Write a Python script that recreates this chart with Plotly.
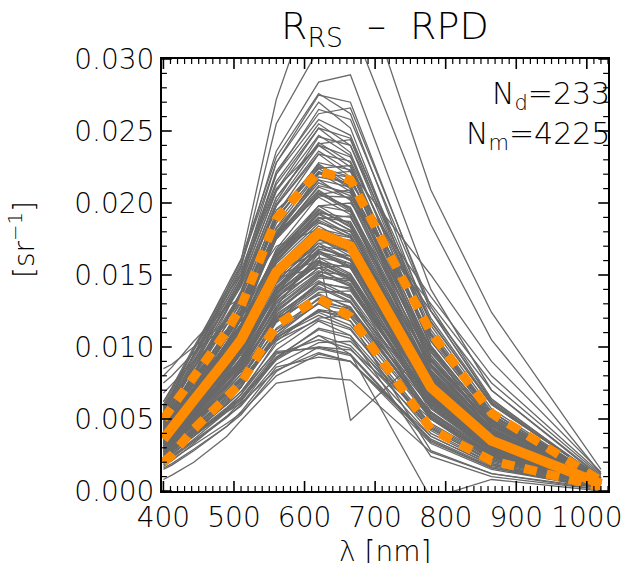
import plotly.graph_objects as go

# Wavelengths of the radiometer bands [nm]
wavelengths = [400, 412, 443, 490, 510, 560, 620, 665, 779, 865, 1020]

# Individual R_RS spectra, in units of 1e-4 sr^-1
rrs_spectra_e4 = [
    [18, 22, 32, 47, 54, 80, 95, 90, 38, 18, 2],
    [20, 24, 35, 52, 59, 88, 103, 104, 47, 23, 4],
    [22, 26, 38, 55, 63, 91, 108, 101, 43, 21, 3],
    [26, 30, 41, 55, 61, 84, 96, 90, 36, 17, 2],
    [16, 19, 29, 45, 53, 83, 100, 98, 50, 26, 4],
    [24, 28, 39, 57, 65, 93, 112, 106, 40, 19, 3],
    [21, 25, 38, 57, 67, 104, 126, 123, 63, 32, 5],
    [19, 23, 34, 51, 60, 92, 113, 108, 44, 20, 3],
    [25, 30, 44, 64, 74, 106, 126, 118, 50, 25, 4],
    [24, 28, 41, 60, 69, 102, 120, 122, 55, 27, 4],
    [32, 36, 50, 69, 77, 105, 119, 112, 45, 21, 3],
    [27, 31, 45, 65, 75, 110, 130, 125, 52, 25, 4],
    [23, 28, 42, 62, 72, 108, 131, 127, 58, 29, 5],
    [29, 33, 47, 67, 76, 108, 124, 115, 46, 22, 3],
    [26, 31, 46, 67, 78, 113, 133, 126, 54, 26, 4],
    [22, 27, 40, 61, 72, 110, 134, 131, 66, 34, 5],
    [30, 35, 49, 68, 77, 107, 122, 113, 42, 19, 2],
    [25, 29, 43, 63, 73, 106, 125, 121, 51, 24, 3],
    [29, 34, 50, 74, 84, 122, 144, 134, 58, 28, 4],
    [27, 32, 46, 69, 79, 117, 138, 139, 62, 30, 5],
    [36, 42, 58, 79, 88, 120, 136, 128, 51, 24, 3],
    [24, 29, 43, 66, 77, 118, 144, 141, 72, 37, 6],
    [31, 36, 52, 75, 85, 121, 141, 131, 54, 26, 4],
    [28, 33, 48, 71, 81, 119, 140, 136, 60, 29, 4],
    [33, 38, 54, 77, 86, 123, 142, 132, 53, 25, 3],
    [26, 31, 47, 70, 81, 120, 145, 140, 65, 32, 5],
    [30, 35, 51, 73, 83, 118, 137, 127, 50, 23, 3],
    [29, 34, 51, 76, 87, 127, 150, 143, 61, 30, 4],
    [27, 32, 48, 72, 83, 124, 148, 146, 68, 34, 5],
    [34, 40, 56, 79, 89, 126, 146, 135, 52, 24, 3],
    [31, 37, 53, 77, 88, 128, 151, 142, 59, 28, 4],
    [28, 33, 49, 73, 84, 125, 149, 147, 64, 31, 5],
    [32, 39, 57, 83, 95, 137, 162, 151, 65, 32, 5],
    [31, 36, 52, 77, 89, 131, 155, 157, 70, 34, 5],
    [41, 47, 65, 89, 99, 135, 153, 144, 58, 27, 4],
    [27, 32, 49, 74, 86, 133, 162, 158, 81, 41, 6],
    [33, 39, 56, 81, 92, 134, 158, 149, 63, 30, 4],
    [30, 35, 52, 78, 90, 134, 159, 155, 69, 33, 5],
    [37, 43, 60, 85, 96, 136, 157, 146, 60, 28, 4],
    [29, 35, 52, 79, 92, 138, 166, 161, 75, 37, 6],
    [34, 40, 58, 84, 96, 139, 165, 155, 66, 32, 5],
    [32, 38, 55, 80, 91, 132, 155, 148, 62, 30, 4],
    [35, 41, 59, 86, 98, 141, 167, 156, 64, 31, 4],
    [30, 36, 53, 80, 93, 140, 168, 163, 73, 36, 5],
    [38, 44, 62, 87, 98, 138, 160, 150, 61, 29, 4],
    [31, 37, 54, 79, 90, 130, 152, 150, 67, 33, 5],
    [33, 39, 57, 84, 97, 142, 170, 160, 68, 33, 5],
    [36, 42, 60, 86, 97, 137, 159, 147, 57, 27, 3],
    [36, 43, 63, 92, 105, 152, 180, 168, 72, 35, 5],
    [34, 40, 58, 86, 99, 146, 172, 174, 78, 38, 6],
    [45, 52, 72, 99, 110, 150, 170, 160, 64, 30, 4],
    [30, 36, 54, 82, 96, 148, 180, 176, 90, 46, 7],
    [35, 42, 61, 89, 102, 149, 176, 166, 71, 34, 5],
    [38, 45, 65, 94, 107, 154, 181, 170, 70, 34, 5],
    [33, 39, 57, 85, 98, 147, 176, 172, 80, 40, 6],
    [40, 47, 67, 95, 107, 151, 175, 163, 66, 31, 4],
    [36, 43, 62, 90, 103, 150, 178, 171, 75, 37, 6],
    [37, 44, 64, 93, 106, 153, 182, 169, 69, 33, 5],
    [32, 38, 56, 84, 97, 145, 174, 173, 84, 43, 7],
    [42, 49, 69, 97, 108, 151, 172, 161, 63, 30, 4],
    [35, 41, 60, 88, 101, 148, 177, 170, 76, 37, 5],
    [39, 46, 66, 95, 108, 156, 184, 172, 71, 34, 5],
    [34, 41, 60, 89, 103, 152, 182, 177, 81, 40, 6],
    [36, 42, 61, 88, 100, 144, 170, 161, 68, 33, 5],
    [37, 44, 63, 91, 104, 151, 179, 167, 73, 36, 5],
    [33, 40, 59, 87, 100, 149, 178, 174, 79, 39, 6],
    [40, 47, 69, 101, 116, 167, 198, 185, 79, 39, 6],
    [37, 44, 64, 95, 109, 161, 189, 191, 86, 42, 7],
    [50, 57, 79, 109, 121, 165, 187, 176, 70, 33, 4],
    [33, 40, 59, 90, 106, 163, 198, 194, 99, 51, 8],
    [39, 46, 67, 98, 112, 162, 192, 181, 78, 38, 6],
    [42, 49, 70, 101, 115, 164, 193, 181, 76, 37, 5],
    [36, 43, 63, 94, 108, 159, 190, 187, 88, 44, 7],
    [44, 51, 72, 103, 116, 164, 190, 178, 73, 35, 5],
    [38, 45, 66, 97, 111, 163, 194, 186, 83, 41, 6],
    [41, 48, 68, 99, 113, 160, 188, 178, 75, 36, 5],
    [35, 42, 62, 93, 108, 160, 193, 190, 92, 47, 7],
    [43, 50, 71, 102, 116, 166, 196, 183, 77, 37, 5],
    [39, 46, 66, 96, 110, 158, 186, 180, 80, 39, 6],
    [40, 47, 68, 100, 114, 165, 195, 184, 81, 40, 6],
    [43, 52, 76, 110, 126, 182, 216, 202, 86, 42, 6],
    [41, 48, 70, 103, 119, 175, 206, 209, 94, 46, 7],
    [54, 62, 86, 119, 132, 180, 204, 192, 77, 36, 5],
    [36, 43, 65, 98, 115, 178, 216, 211, 108, 55, 8],
    [45, 53, 75, 108, 123, 176, 208, 196, 84, 41, 6],
    [42, 50, 72, 106, 121, 177, 211, 203, 91, 45, 7],
    [47, 55, 77, 110, 124, 177, 207, 194, 81, 39, 6],
    [40, 47, 69, 103, 119, 176, 212, 207, 99, 50, 8],
    [44, 52, 74, 107, 122, 175, 206, 197, 87, 43, 6],
    [48, 56, 78, 111, 125, 178, 209, 195, 80, 38, 5],
    [47, 56, 82, 120, 137, 198, 234, 218, 94, 46, 7],
    [44, 52, 75, 112, 129, 190, 224, 226, 101, 49, 8],
    [59, 68, 94, 129, 143, 195, 221, 208, 83, 39, 5],
    [39, 47, 70, 107, 125, 192, 234, 229, 117, 60, 9],
    [50, 58, 82, 118, 134, 192, 227, 213, 92, 45, 7],
    [46, 54, 79, 115, 131, 189, 225, 218, 98, 48, 7],
    [52, 60, 85, 120, 135, 193, 226, 211, 88, 42, 6],
    [50, 60, 88, 129, 147, 213, 252, 235, 101, 49, 7],
    [48, 56, 81, 120, 139, 204, 241, 244, 109, 53, 8],
    [62, 71, 98, 136, 151, 210, 240, 225, 90, 43, 6],
    [54, 65, 95, 138, 158, 228, 270, 252, 108, 53, 8],
    [56, 66, 94, 135, 153, 220, 258, 247, 112, 55, 8],
    [45, 54, 82, 125, 146, 220, 265, 258, 125, 63, 9],
    [58, 68, 98, 142, 161, 232, 276, 262, 115, 57, 8],
    [75, 80, 96, 116, 121, 150, 160, 148, 55, 25, 3],
    [85, 88, 100, 118, 122, 148, 155, 142, 50, 22, 3],
    [68, 74, 90, 112, 118, 152, 166, 155, 60, 28, 4],
    [80, 86, 104, 128, 134, 170, 182, 170, 66, 31, 4],
    [8, 11, 20, 38, 49, 75, 79, 77, 27, 12, 2],
    [30, 35, 50, 74, 86, 128, 165, 49, 100, 40, 5],
    [22, 26, 38, 56, 64, 92, 108, 95, -5, 8, 0],
    [62, 72, 100, 140, 160, 272, 356, 376, 209, 124, 15],
    [58, 68, 95, 136, 155, 255, 307, 326, 185, 105, 12],
    [60, 70, 98, 138, 156, 236, 284, 289, 140, 70, 9],
    [55, 64, 92, 132, 150, 228, 275, 270, 125, 62, 8],
    [52, 62, 90, 130, 148, 222, 262, 266, 128, 64, 8],
    [15, 18, 28, 45, 55, 86, 93, 90, 33, 15, 2],
    [20, 24, 36, 55, 65, 96, 100, 95, 35, 16, 2],
    [17, 21, 33, 52, 62, 95, 105, 99, 38, 18, 2],
    [25, 29, 42, 60, 69, 97, 99, 94, 34, 16, 2],
    [24, 28, 40, 58, 67, 98, 118, 108, 24, 10, 1],
    [28, 33, 47, 68, 78, 112, 130, 118, 28, 12, 1],
    [44, 52, 74, 108, 124, 180, 214, 205, 92, 46, 7],
    [46, 54, 77, 112, 128, 186, 222, 212, 96, 48, 7],
    [41, 49, 72, 107, 124, 183, 221, 218, 104, 52, 8],
    [49, 57, 81, 116, 131, 189, 224, 210, 88, 43, 6],
    [43, 51, 75, 111, 128, 188, 228, 223, 106, 53, 8],
    [51, 60, 85, 122, 138, 198, 236, 222, 97, 47, 7],
    [47, 56, 82, 120, 137, 199, 240, 232, 110, 55, 8],
    [53, 62, 88, 126, 142, 204, 242, 228, 100, 49, 7],
    [45, 54, 80, 119, 137, 201, 246, 240, 118, 60, 9],
    [55, 64, 90, 129, 145, 208, 247, 233, 104, 51, 7],
    [50, 59, 86, 126, 144, 209, 252, 245, 120, 61, 9],
    [57, 67, 94, 134, 150, 215, 255, 240, 108, 53, 8],
    [34, 40, 58, 85, 97, 140, 166, 158, 70, 35, 5],
    [35, 42, 61, 90, 103, 150, 178, 170, 78, 39, 6],
    [37, 44, 63, 91, 104, 149, 175, 165, 70, 34, 5],
    [31, 37, 55, 82, 95, 141, 170, 167, 79, 40, 6],
    [38, 45, 65, 93, 105, 150, 176, 166, 69, 33, 5],
    [33, 40, 59, 88, 101, 148, 177, 172, 82, 41, 6],
    [38, 45, 66, 98, 113, 168, 205, 204, 125, 70, 10],
    [35, 42, 62, 93, 108, 162, 198, 200, 130, 75, 11],
    [42, 50, 72, 106, 122, 180, 218, 214, 135, 80, 12],
    [40, 48, 70, 104, 120, 178, 220, 222, 150, 90, 13],
]

# Mean and mean +/- one standard deviation [sr^-1]
rrs_mean = [0.0036, 0.0043, 0.0063, 0.0092, 0.0105, 0.0152, 0.0179, 0.0170, 0.0072, 0.0035, 0.0005]
rrs_upper = [0.0050, 0.0058, 0.0079, 0.0111, 0.0128, 0.0189, 0.0222, 0.0216, 0.0110, 0.0054, 0.0007]
rrs_lower = [0.0020, 0.0025, 0.0043, 0.0064, 0.0075, 0.0115, 0.0134, 0.0121, 0.0043, 0.0021, 0.0003]

# Axis ticks
x_major = [400, 500, 600, 700, 800, 900, 1000]
x_minor_step = 10
y_major = [0.000, 0.005, 0.010, 0.015, 0.020, 0.025, 0.030]
y_minor_step = 0.001
x_range = [398, 1030]
y_range = [0.0, 0.030]

n_d = 233
n_m = 4225

W, H = 634, 563
M = dict(l=162, r=14, t=59, b=72)
GRAY = "rgb(105,105,105)"
ORANGE = "#ff8c00"
FONT = "DejaVu Sans"
TXT = "#000"

fig = go.Figure()

for spec in rrs_spectra_e4:
    fig.add_trace(go.Scatter(
        x=wavelengths, y=[v * 1e-4 for v in spec], mode="lines",
        line=dict(color=GRAY, width=1.3), hoverinfo="skip", showlegend=False))

for band in (rrs_upper, rrs_lower):
    fig.add_trace(go.Scatter(
        x=wavelengths, y=band, mode="lines",
        line=dict(color=ORANGE, width=9, dash="13px,10px"),
        hoverinfo="skip", showlegend=False))

fig.add_trace(go.Scatter(
    x=wavelengths, y=rrs_mean, mode="lines",
    line=dict(color=ORANGE, width=10), hoverinfo="skip", showlegend=False))

# Inward tick marks on all four sides (IDL box style), as line segments
plot_w = W - M["l"] - M["r"]
plot_h = H - M["t"] - M["b"]
dx_px = (x_range[1] - x_range[0]) / plot_w
dy_px = (y_range[1] - y_range[0]) / plot_h

def tick_segments(major_len, minor_len):
    segs = {"major": ([], []), "minor": ([], [])}
    xv = x_major[0]
    while xv <= x_range[1] + 1e-9:
        kind = "major" if xv in x_major else "minor"
        ln = (major_len if kind == "major" else minor_len) * dy_px
        xs, ys = segs[kind]
        xs += [xv, xv, None, xv, xv, None]
        ys += [y_range[0], y_range[0] + ln, None, y_range[1], y_range[1] - ln, None]
        xv += x_minor_step
    n_y = int(round((y_range[1] - y_range[0]) / y_minor_step))
    for i in range(n_y + 1):
        yv = round(y_range[0] + i * y_minor_step, 6)
        kind = "major" if any(abs(yv - m) < 1e-9 for m in y_major) else "minor"
        ln = (major_len if kind == "major" else minor_len) * dx_px
        xs, ys = segs[kind]
        xs += [x_range[0], x_range[0] + ln, None, x_range[1], x_range[1] - ln, None]
        ys += [yv, yv, None, yv, yv, None]
    return segs

segs = tick_segments(10, 5)
for kind, width in (("minor", 1.2), ("major", 1.6)):
    xs, ys = segs[kind]
    fig.add_trace(go.Scatter(
        x=xs, y=ys, mode="lines", line=dict(color="black", width=width),
        hoverinfo="skip", showlegend=False, connectgaps=False))

fig.update_xaxes(
    range=x_range, tickmode="array", tickvals=x_major,
    ticktext=[str(v) for v in x_major], ticks="",
    showline=True, linecolor="black", linewidth=2, mirror=True,
    showgrid=False, zeroline=False,
    tickfont=dict(family=FONT, size=28, color=TXT, weight=200),
)
fig.update_yaxes(
    range=y_range, tickmode="array", tickvals=y_major,
    ticktext=[f"{v:.3f}" for v in y_major], ticks="",
    showline=True, linecolor="black", linewidth=2, mirror=True,
    showgrid=False, zeroline=False,
    tickfont=dict(family=FONT, size=28, color=TXT, weight=200),
)

def tfont(size):
    return dict(family=FONT, size=size, color=TXT, weight=200)

fig.update_layout(
    width=W, height=H,
    margin=M,
    paper_bgcolor="white", plot_bgcolor="white",
    font=dict(family=FONT, color=TXT),
    annotations=[
        dict(text="R<sub>RS</sub>  \u2013  RPD", xref="paper", yref="paper",
             x=0.5, y=1.0, yshift=31, showarrow=False,
             font=tfont(38), xanchor="center", yanchor="middle"),
        dict(text=f"N<sub>d</sub>={n_d}", xref="paper", yref="paper",
             x=1.0, y=1.0, xshift=4, yshift=-36, showarrow=False,
             font=tfont(30), xanchor="right", yanchor="middle"),
        dict(text=f"N<sub>m</sub>={n_m}", xref="paper", yref="paper",
             x=1.0, y=1.0, xshift=4, yshift=-76, showarrow=False,
             font=tfont(30), xanchor="right", yanchor="middle"),
        dict(text="[sr<sup>\u22121</sup>]", xref="paper", yref="paper",
             x=0.0, y=0.5, xshift=-140, yshift=35, textangle=-90, showarrow=False,
             font=tfont(28), xanchor="center", yanchor="middle"),
        dict(text="\u03bb [nm]", xref="paper", yref="paper",
             x=0.5, y=0.0, yshift=-60, showarrow=False,
             font=tfont(28), xanchor="center", yanchor="middle"),
    ],
)

fig.write_html("out.html")
